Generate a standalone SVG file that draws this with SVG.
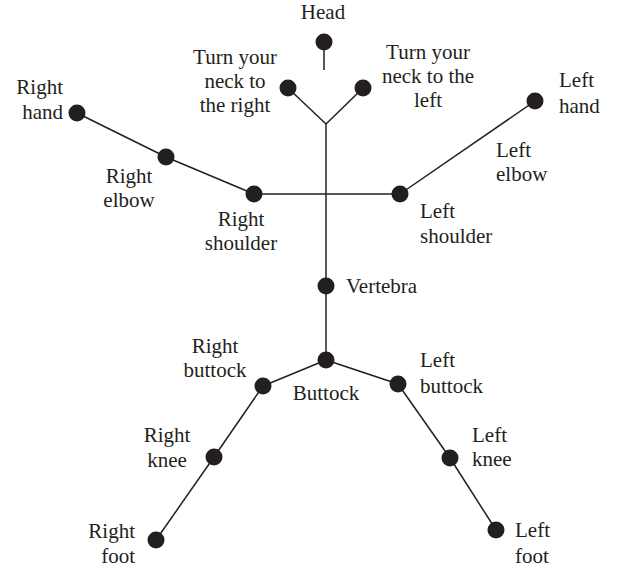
<svg xmlns="http://www.w3.org/2000/svg" width="617" height="571" viewBox="0 0 617 571">
<style>
.n{fill:#231f20}
.c line{stroke:#231f20;stroke-width:1.5;fill:none}
text{font-family:"Liberation Serif","Times New Roman",serif;font-size:21px;fill:#231f20}
.m{text-anchor:middle}
.e{text-anchor:end}
</style>
<rect width="617" height="571" fill="#fff"/>
<g class="c" id="connectors">
<line x1="324" y1="42" x2="324" y2="70"/>
<line x1="288" y1="88" x2="326" y2="124"/>
<line x1="363" y1="88" x2="326" y2="124"/>
<line x1="326" y1="124" x2="326" y2="360"/>
<line x1="254" y1="194" x2="400" y2="194"/>
<line x1="77" y1="113" x2="166" y2="157"/>
<line x1="166" y1="157" x2="254" y2="194"/>
<line x1="400" y1="194" x2="535" y2="101"/>
<line x1="326" y1="360" x2="263" y2="386"/>
<line x1="326" y1="360" x2="398" y2="384"/>
<line x1="263" y1="386" x2="214" y2="457"/>
<line x1="214" y1="457" x2="156" y2="540"/>
<line x1="398" y1="384" x2="450" y2="458"/>
<line x1="450" y1="458" x2="496" y2="530"/>
</g>
<g id="head"><circle class="n" cx="324" cy="42" r="8.5"/><text class="m" x="323" y="19">Head</text></g>
<g id="neck-right"><circle class="n" cx="288" cy="88" r="8.5"/><text class="m" x="235" y="64">Turn your</text><text class="m" x="235" y="88">neck to</text><text class="m" x="235" y="112">the right</text></g>
<g id="neck-left"><circle class="n" cx="363" cy="88" r="8.5"/><text class="m" x="428" y="59">Turn your</text><text class="m" x="428" y="83">neck to the</text><text class="m" x="428" y="107">left</text></g>
<g id="right-hand"><circle class="n" cx="77" cy="113" r="8.5"/><text class="e" x="63" y="94">Right</text><text class="e" x="63" y="119">hand</text></g>
<g id="right-elbow"><circle class="n" cx="166" cy="157" r="8.5"/><text class="m" x="129" y="183">Right</text><text class="m" x="129" y="207">elbow</text></g>
<g id="right-shoulder"><circle class="n" cx="254" cy="194" r="8.5"/><text class="m" x="241" y="226">Right</text><text class="m" x="241" y="250">shoulder</text></g>
<g id="left-hand"><circle class="n" cx="535" cy="101" r="8.5"/><text x="559" y="87">Left</text><text x="559" y="113">hand</text></g>
<g id="left-elbow"><text x="496" y="157">Left</text><text x="496" y="181">elbow</text></g>
<g id="left-shoulder"><circle class="n" cx="400" cy="194" r="8.5"/><text x="420" y="218">Left</text><text x="420" y="243">shoulder</text></g>
<g id="vertebra"><circle class="n" cx="326" cy="286" r="8.5"/><text x="346" y="293">Vertebra</text></g>
<g id="buttock"><circle class="n" cx="326" cy="360" r="8.5"/><text class="m" x="326" y="400">Buttock</text></g>
<g id="right-buttock"><circle class="n" cx="263" cy="386" r="8.5"/><text class="m" x="215" y="353">Right</text><text class="m" x="215" y="377">buttock</text></g>
<g id="left-buttock"><circle class="n" cx="398" cy="384" r="8.5"/><text x="420" y="367">Left</text><text x="420" y="393">buttock</text></g>
<g id="right-knee"><circle class="n" cx="214" cy="457" r="8.5"/><text class="m" x="167" y="442">Right</text><text class="m" x="167" y="467">knee</text></g>
<g id="right-foot"><circle class="n" cx="156" cy="540" r="8.5"/><text class="e" x="135" y="538">Right</text><text class="e" x="135" y="563">foot</text></g>
<g id="left-knee"><circle class="n" cx="450" cy="458" r="8.5"/><text x="472" y="442">Left</text><text x="472" y="466">knee</text></g>
<g id="left-foot"><circle class="n" cx="496" cy="530" r="8.5"/><text x="515" y="537">Left</text><text x="515" y="563">foot</text></g>
</svg>
